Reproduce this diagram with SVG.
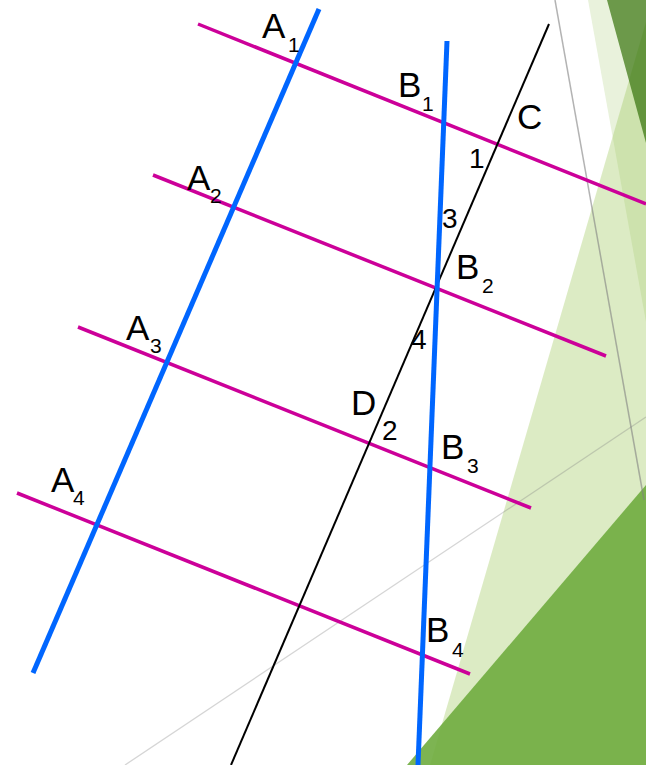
<svg xmlns="http://www.w3.org/2000/svg" width="646" height="765" viewBox="0 0 646 765">
<style>
.lbl{font-family:"Liberation Sans",Arial,sans-serif;font-size:35px;fill:#000}
.sub{font-family:"Liberation Sans",Arial,sans-serif;font-size:21px;fill:#000}
.num{font-family:"Liberation Sans",Arial,sans-serif;font-size:28px;fill:#000}
.blue{stroke:#0066ff;stroke-width:5;fill:none}
.mag{stroke:#cc0099;stroke-width:3.5;fill:none}
.blk{stroke:#000;stroke-width:2;fill:none}
</style>
<rect width="646" height="765" fill="#ffffff"/>
<g id="background">
<polygon points="588,0 646,0 646,322" fill="#e9f2dc"/>
<polygon points="646,22 430,765 646,765" fill="#9bc656" fill-opacity="0.35"/>
<polygon points="607,0 646,0 646,143" fill="#36740c" fill-opacity="0.7"/>
<polygon points="646,485 407,765 646,765" fill="#6fac3f" fill-opacity="0.9"/>
<line x1="555" y1="0" x2="644" y2="500" stroke="#808080" stroke-opacity="0.6" stroke-width="1.5"/>
<line x1="125" y1="765" x2="646" y2="417" stroke="#808080" stroke-opacity="0.33" stroke-width="1.3"/>
</g>
<g id="connectors">
<line class="mag" x1="198" y1="24" x2="646" y2="204"/>
<line class="mag" x1="153" y1="175" x2="606" y2="356"/>
<line class="mag" x1="78" y1="327" x2="531" y2="508"/>
<line class="mag" x1="17" y1="493" x2="470" y2="674"/>
<line class="blk" x1="549" y1="24" x2="231" y2="765"/>
<line class="blue" x1="319" y1="9" x2="33" y2="673"/>
<line class="blue" x1="447" y1="41" x2="418" y2="765"/>
</g>
<g id="A1"><text class="lbl" x="262" y="38">A</text><text class="sub" x="288" y="52">1</text></g>
<g id="A2"><text class="lbl" x="187" y="190">A</text><text class="sub" x="210" y="203">2</text></g>
<g id="A3"><text class="lbl" x="126" y="340">A</text><text class="sub" x="150" y="353">3</text></g>
<g id="A4"><text class="lbl" x="51" y="492">A</text><text class="sub" x="73" y="505">4</text></g>
<g id="B1"><text class="lbl" x="398" y="97">B</text><text class="sub" x="422" y="111">1</text></g>
<g id="B2"><text class="lbl" x="456" y="279">B</text><text class="sub" x="482" y="293">2</text></g>
<g id="B3"><text class="lbl" x="441" y="459">B</text><text class="sub" x="467" y="473">3</text></g>
<g id="B4"><text class="lbl" x="426" y="642">B</text><text class="sub" x="452" y="657">4</text></g>
<g id="C"><text class="lbl" x="517" y="129">C</text></g>
<g id="D"><text class="lbl" x="351" y="415">D</text></g>
<g id="angle1"><text class="num" x="469" y="168">1</text></g>
<g id="angle2"><text class="num" x="382" y="440">2</text></g>
<g id="angle3"><text class="num" x="442" y="228">3</text></g>
<g id="angle4"><text class="num" x="411" y="349">4</text></g>
</svg>
